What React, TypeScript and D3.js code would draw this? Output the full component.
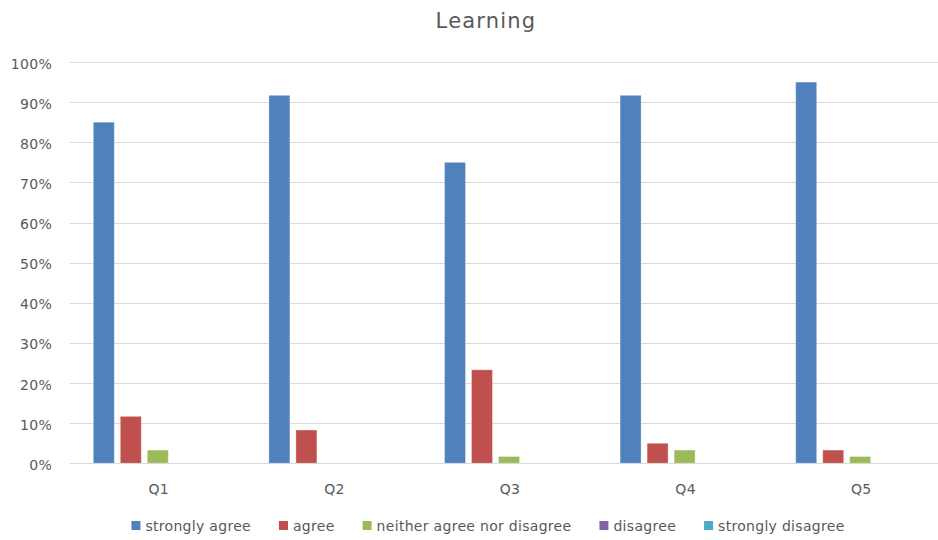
import React, { useEffect, useRef } from "react";
import * as d3 from "d3";

const categories = ["Q1", "Q2", "Q3", "Q4", "Q5"];
const seriesNames = ["strongly agree", "agree", "neither agree nor disagree", "disagree", "strongly disagree"];
const stronglyAgree = [85, 91.7, 75, 91.7, 95];
const agree = [11.7, 8.3, 23.3, 5, 3.3];
const neither = [3.3, 0, 1.7, 3.3, 1.7];
const disagree = [0, 0, 0, 0, 0];
const stronglyDisagree = [0, 0, 0, 0, 0];
const seriesValues = [stronglyAgree, agree, neither, disagree, stronglyDisagree];
const colors = ["#4F81BD", "#C0504D", "#9BBB59", "#8064A2", "#4BACC6"];
const yTicks = [0, 10, 20, 30, 40, 50, 60, 70, 80, 90, 100];
const title = "Learning";

const W = 938;
const H = 540;
const FONT = "'DejaVu Sans', sans-serif";
const TEXT = "#595959";

export default function App() {
  const ref = useRef<SVGSVGElement | null>(null);

  useEffect(() => {
    const svg = d3.select(ref.current);
    svg.selectAll("*").remove();

    const x = d3.scaleBand<string>().domain(categories).range([70, 948]).padding(0);
    const xi = d3
      .scaleBand<string>()
      .domain(seriesNames)
      .range([0, x.bandwidth()])
      .paddingInner(0.222)
      .paddingOuter(0.863);
    const y = d3.scaleLinear().domain([0, 100]).range([463.3, 62]);

    svg.append("rect").attr("width", W).attr("height", H).attr("fill", "#fff");

    // title
    svg
      .append("text")
      .attr("x", 486)
      .attr("y", 28)
      .attr("text-anchor", "middle")
      .attr("font-family", FONT)
      .attr("font-size", 21)
      .attr("letter-spacing", 1.2)
      .attr("fill", TEXT)
      .text(title);

    // gridlines
    const g = svg.append("g");
    g.selectAll("line.grid")
      .data(yTicks)
      .join("line")
      .attr("x1", 70)
      .attr("x2", 948)
      .attr("y1", (d) => Math.round(y(d)) + 0.5)
      .attr("y2", (d) => Math.round(y(d)) + 0.5)
      .attr("stroke", "#d9d9d9")
      .attr("stroke-width", 1);

    // y labels
    g.selectAll("text.ylab")
      .data(yTicks)
      .join("text")
      .attr("x", 52)
      .attr("y", (d) => y(d) + 6.5)
      .attr("text-anchor", "end")
      .attr("font-family", FONT)
      .attr("font-size", 14)
      .attr("letter-spacing", 0.3)
      .attr("fill", TEXT)
      .text((d) => `${d}%`);

    // bars
    seriesNames.forEach((s, si) => {
      svg
        .append("g")
        .selectAll("rect")
        .data(categories.map((c, ci) => ({ c, v: seriesValues[si][ci] })))
        .join("rect")
        .filter((d) => d.v > 0)
        .attr("x", (d) => (x(d.c) as number) + (xi(s) as number))
        .attr("width", xi.bandwidth())
        .attr("y", (d) => y(d.v))
        .attr("height", (d) => y(0) - y(d.v))
        .attr("fill", colors[si])
        .attr("stroke", "#ffffff")
        .attr("stroke-opacity", 0.35)
        .attr("stroke-width", 1);
    });

    // axis line
    svg
      .append("line")
      .attr("x1", 70)
      .attr("x2", 948)
      .attr("y1", Math.round(y(0)) + 0.5)
      .attr("y2", Math.round(y(0)) + 0.5)
      .attr("stroke", "#d9d9d9");

    // x labels
    svg
      .append("g")
      .selectAll("text")
      .data(categories)
      .join("text")
      .attr("x", (d) => (x(d) as number) + x.bandwidth() / 2 + 1)
      .attr("y", 494)
      .attr("text-anchor", "middle")
      .attr("font-family", FONT)
      .attr("font-size", 14)
      .attr("letter-spacing", 0.3)
      .attr("fill", TEXT)
      .text((d) => d);

    // legend
    const leg = svg.append("g");
    const items = seriesNames.map((s, i) => {
      const it = leg.append("g");
      it.append("rect").attr("width", 9).attr("height", 9).attr("y", -10).attr("fill", colors[i]);
      const t = it
        .append("text")
        .attr("x", 14)
        .attr("font-family", FONT)
        .attr("font-size", 14)
        .attr("letter-spacing", 0.3)
        .attr("fill", TEXT)
        .text(s);
      const w = (t.node() as SVGTextElement).getComputedTextLength();
      return { it, w: 14 + w };
    });
    const gap = 28;
    const total = items.reduce((a, b) => a + b.w, 0) + gap * (items.length - 1);
    let cx = 488 - total / 2;
    items.forEach((o) => {
      o.it.attr("transform", `translate(${cx},531)`);
      cx += o.w + gap;
    });
  }, []);

  return (
    <svg
      ref={ref}
      width={W}
      height={H}
      style={{ position: "absolute", left: 0, top: 0, display: "block" }}
    />
  );
}
